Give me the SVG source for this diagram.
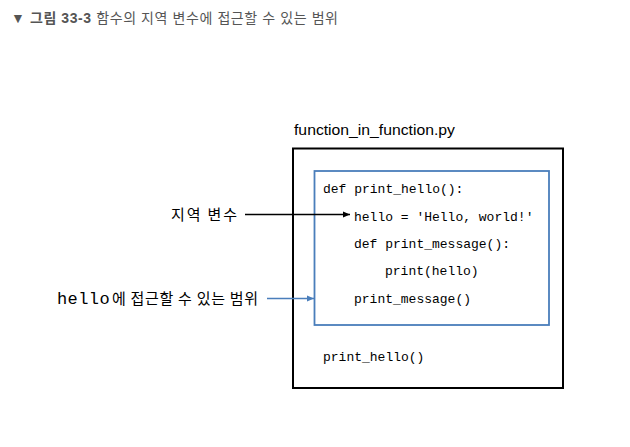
<svg xmlns="http://www.w3.org/2000/svg" width="630" height="447" viewBox="0 0 630 447">
<style>
.title{font-family:"Liberation Sans","Noto Sans CJK KR",sans-serif;font-size:14px;fill:#555}
.lbl{font-family:"Noto Sans CJK KR","Liberation Sans",sans-serif;font-size:15px;fill:#000}
.code{font-family:"Liberation Mono","DejaVu Sans Mono",monospace;font-size:13px;fill:#000}
.fname{font-family:"Liberation Sans","Noto Sans CJK KR",sans-serif;font-size:15px;fill:#000}
</style>
<defs>
<marker id="ab" markerWidth="8" markerHeight="8" refX="7" refY="4" orient="auto" markerUnits="userSpaceOnUse"><path d="M0,1 L7,4 L0,7 Z" fill="#000"/></marker>
<marker id="abl" markerWidth="8" markerHeight="8" refX="7" refY="4" orient="auto" markerUnits="userSpaceOnUse"><path d="M0,1 L7,4 L0,7 Z" fill="#4a7ebb"/></marker>
</defs>
<rect width="630" height="447" fill="#fff"/>
<text class="title" x="11" y="23" textLength="327" lengthAdjust="spacing">▼ <tspan font-weight="bold">그림 33-3</tspan> 함수의 지역 변수에 접근할 수 있는 범위</text>
<g id="file">
<text class="fname" x="294" y="135" textLength="161" lengthAdjust="spacingAndGlyphs">function_in_function.py</text>
<rect x="293" y="148.5" width="270" height="239.5" fill="none" stroke="#000" stroke-width="2"/>
</g>
<g id="scope">
<rect x="314.5" y="171" width="234.5" height="154" fill="none" stroke="#4a7ebb" stroke-width="1.8"/>
</g>
<g id="code">
<text class="code" x="323" y="193">def print_hello():</text>
<text class="code" x="354" y="221">hello = 'Hello, world!'</text>
<text class="code" x="354" y="248">def print_message():</text>
<text class="code" x="385" y="275">print(hello)</text>
<text class="code" x="354" y="303">print_message()</text>
<text class="code" x="323" y="361">print_hello()</text>
</g>
<g id="label-local">
<text class="lbl" x="171" y="220" textLength="66" lengthAdjust="spacing">지역 변수</text>
</g>
<g id="label-scope">
<text class="code" x="57" y="304" style="font-size:17px;letter-spacing:0.4px">hello</text>
<text class="lbl" x="112" y="304" textLength="146" lengthAdjust="spacing">에 접근할 수 있는 범위</text>
</g>
<g id="connectors">
<line x1="245" y1="214.5" x2="350" y2="214.5" stroke="#000" stroke-width="1.6" marker-end="url(#ab)"/>
<line x1="267" y1="298.5" x2="314" y2="298.5" stroke="#4a7ebb" stroke-width="1.6" marker-end="url(#abl)"/>
</g>
</svg>
